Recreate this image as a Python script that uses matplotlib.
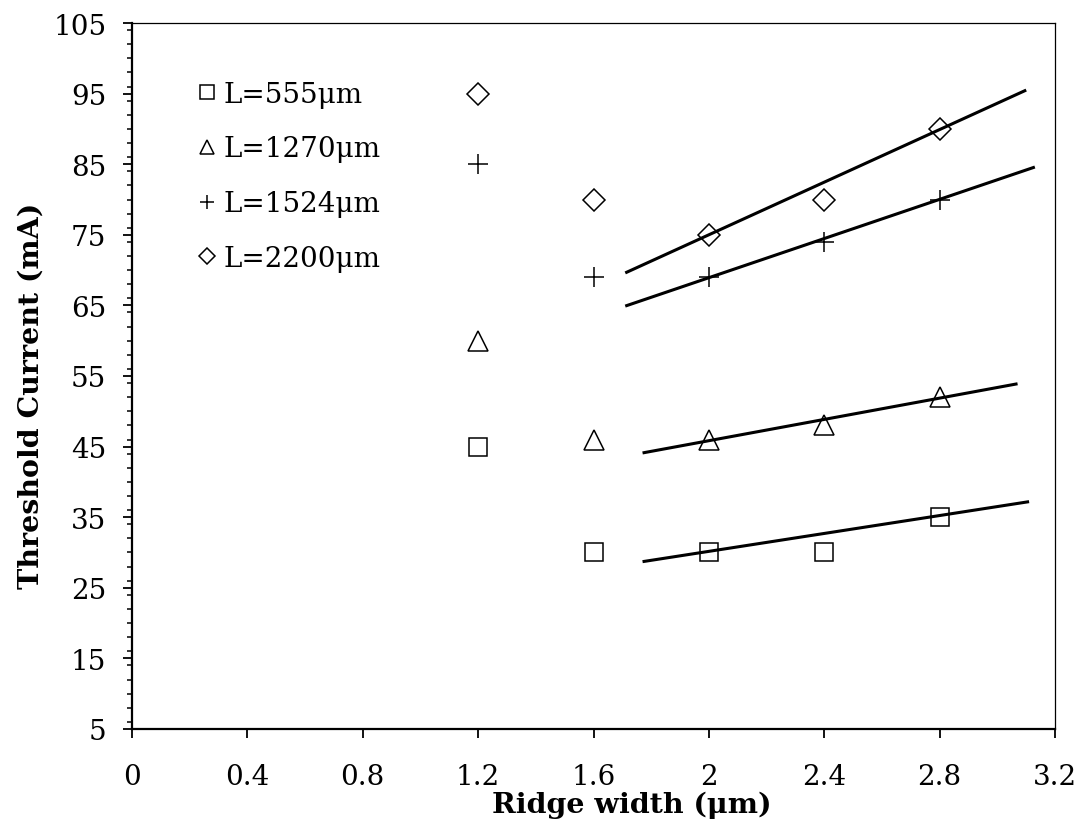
import numpy as np
import matplotlib
matplotlib.use('Agg')
import matplotlib.pyplot as plt
from matplotlib.ticker import MultipleLocator, FixedLocator

plt.rcParams['font.family'] = ['DejaVu Serif']

# 数据
ridge_width = [1.2, 1.6, 2.0, 2.4, 2.8]
ith_555 = [45, 30, 30, 30, 35]
ith_1270 = [60, 46, 46, 48, 52]
ith_1524 = [85, 69, 69, 74, 80]
ith_2200 = [95, 80, 75, 80, 90]

# 趋势线端点
fit_555_x, fit_555_y = [1.77, 3.11], [28.7, 37.2]
fit_1270_x, fit_1270_y = [1.77, 3.07], [44.1, 53.9]
fit_1524_x, fit_1524_y = [1.71, 3.13], [64.9, 84.6]
fit_2200_x, fit_2200_y = [1.71, 3.10], [69.6, 95.5]

labels = ['L=555μm', 'L=1270μm', 'L=1524μm', 'L=2200μm']
x_ticks = [0, 0.4, 0.8, 1.2, 1.6, 2, 2.4, 2.8, 3.2]
x_ticklabels = ['0', '0.4', '0.8', '1.2', '1.6', '2', '2.4', '2.8', '3.2']
y_ticks = [5, 15, 25, 35, 45, 55, 65, 75, 85, 95, 105]

fig = plt.figure(figsize=(10.8, 8.28), dpi=100)
ax = fig.add_axes([0.1222, 0.1184, 0.8547, 0.8526])

mk = dict(linestyle='none', color='black', markerfacecolor='white',
          markeredgecolor='black', markeredgewidth=1.1)
ax.plot(ridge_width, ith_555, marker='s', markersize=13.5, label=labels[0], **mk)
ax.plot(ridge_width, ith_1270, marker='^', markersize=14, label=labels[1], **mk)
ax.plot(ridge_width, ith_1524, marker='+', markersize=14, label=labels[2], **mk)
ax.plot(ridge_width, ith_2200, marker='D', markersize=11, label=labels[3], **mk)

# 线性趋势线
for fx, fy in [(fit_555_x, fit_555_y), (fit_1270_x, fit_1270_y),
               (fit_1524_x, fit_1524_y), (fit_2200_x, fit_2200_y)]:
    ax.plot(fx, fy, color='black', linewidth=2.2, solid_capstyle='butt')

ax.set_xlim(0, 3.2)
ax.set_ylim(5, 105)
ax.xaxis.set_major_locator(FixedLocator(x_ticks))
ax.set_xticklabels(x_ticklabels)
ax.yaxis.set_major_locator(FixedLocator(y_ticks))
ax.yaxis.set_minor_locator(MultipleLocator(2))

ax.tick_params(axis='both', which='major', direction='out', length=6.5,
               width=1.3, labelsize=20, color='black')
ax.tick_params(axis='x', pad=18)
ax.tick_params(axis='y', pad=12)
ax.tick_params(axis='y', which='minor', direction='out', length=3.5, width=1.1)

for side in ['left', 'bottom']:
    ax.spines[side].set_linewidth(1.6)
for side in ['top', 'right']:
    ax.spines[side].set_linewidth(0.9)

ax.set_xlabel('Ridge width (μm)', fontsize=20.5, fontweight='bold')
ax.set_ylabel('Threshold Current (mA)', fontsize=20.5, fontweight='bold')
ax.xaxis.set_label_coords(0.542, -0.088)
ax.yaxis.set_label_coords(-0.095, 0.473)

ax.legend(loc='upper left', bbox_to_anchor=(0.06, 0.934), frameon=False,
          fontsize=20, markerscale=0.75, handlelength=0.6, handletextpad=0.3,
          labelspacing=1.0, borderaxespad=0)

plt.savefig('out.png', dpi=100)
